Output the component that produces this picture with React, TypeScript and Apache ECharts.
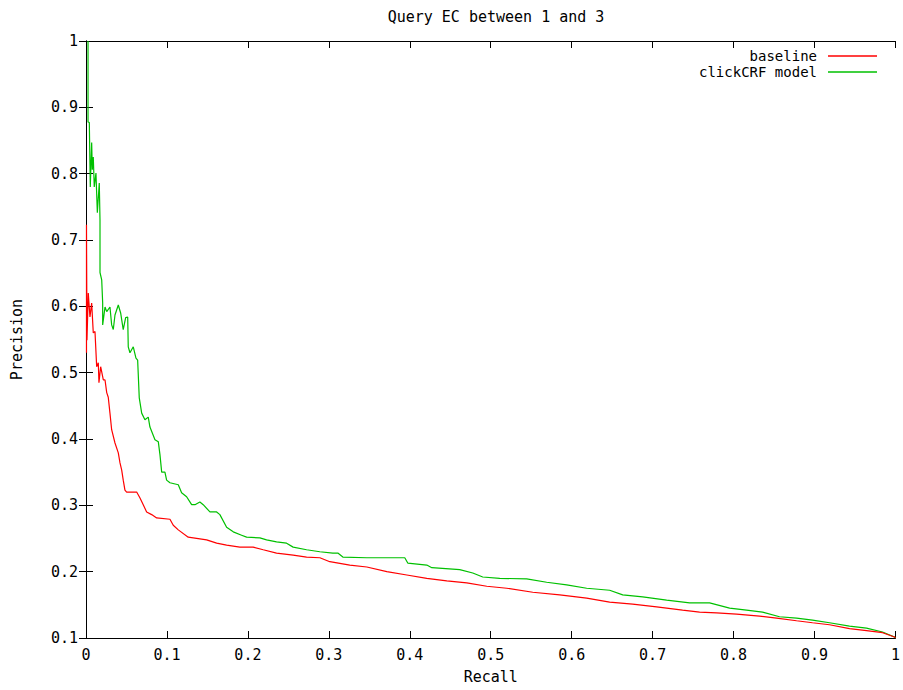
import React, { useEffect, useRef } from "react";
import * as echarts from "echarts";

const TITLE = "Query EC between 1 and 3";
const X_NAME = "Recall";
const Y_NAME = "Precision";
const SERIES_NAMES = ["baseline", "clickCRF model"];

// baseline: [recall, precision]
const baselineRecall = [
  0.0006, 0.0006, 0.0012, 0.0028, 0.0049, 0.007, 0.009, 0.0111, 0.0132, 0.0152, 0.016, 0.0181,
  0.0214, 0.0235, 0.0256, 0.0275, 0.0296, 0.0317, 0.0358, 0.0399, 0.042, 0.0441, 0.046, 0.0481,
  0.0502, 0.0626, 0.0667, 0.0707, 0.0749, 0.0811, 0.0873, 0.1037, 0.1078, 0.114, 0.1263, 0.1325,
  0.149, 0.1614, 0.1737, 0.1901, 0.2065, 0.2189, 0.2354, 0.2559, 0.2725, 0.2889, 0.3012, 0.3259,
  0.3469, 0.3716, 0.3963, 0.421, 0.4457, 0.4704, 0.4951, 0.5198, 0.5519, 0.5852, 0.6185, 0.6469,
  0.6753, 0.7049, 0.737, 0.758, 0.779, 0.8037, 0.8321, 0.8531, 0.8778, 0.8975, 0.9185, 0.9432,
  0.9642, 0.984, 0.9988, 1.0,
];
const baselinePrecision = [
  0.53, 0.723, 0.549, 0.62, 0.584, 0.605, 0.56, 0.562, 0.509, 0.515, 0.485, 0.509,
  0.489, 0.489, 0.47, 0.463, 0.439, 0.414, 0.394, 0.379, 0.364, 0.353, 0.338, 0.323,
  0.32, 0.32, 0.311, 0.301, 0.29, 0.286, 0.281, 0.279, 0.27, 0.263, 0.252, 0.251,
  0.248, 0.243, 0.24, 0.237, 0.237, 0.233, 0.228, 0.225, 0.222, 0.221, 0.215, 0.21,
  0.207, 0.2, 0.195, 0.19, 0.186, 0.183, 0.178, 0.175, 0.169, 0.165, 0.16, 0.154,
  0.151, 0.147, 0.142, 0.139, 0.138, 0.136, 0.133, 0.13, 0.126, 0.123, 0.12, 0.114,
  0.111, 0.108, 0.1015, 0.1,
];

// clickCRF model: [recall, precision]
const crfRecall = [
  0.0025, 0.0025, 0.0041, 0.0053, 0.007, 0.0078, 0.009, 0.0102, 0.0123, 0.014, 0.0164, 0.0173,
  0.0173, 0.0194, 0.0206, 0.0206, 0.0235, 0.0256, 0.0296, 0.0317, 0.0337, 0.0358, 0.0399, 0.0428,
  0.046, 0.049, 0.0515, 0.0522, 0.0543, 0.0584, 0.0617, 0.0638, 0.0658, 0.0688, 0.0728, 0.0769,
  0.079, 0.0852, 0.0893, 0.0914, 0.0935, 0.0975, 0.0996, 0.1037, 0.114, 0.1181, 0.1243, 0.1305,
  0.1346, 0.1407, 0.1448, 0.1531, 0.1614, 0.1654, 0.1737, 0.1819, 0.1922, 0.1984, 0.2148, 0.2231,
  0.2354, 0.2478, 0.2559, 0.2725, 0.2889, 0.3049, 0.3111, 0.3173, 0.3469, 0.3667, 0.3938, 0.3975,
  0.421, 0.4272, 0.4617, 0.4778, 0.4901, 0.5111, 0.5444, 0.5691, 0.5938, 0.6185, 0.6469, 0.663,
  0.6877, 0.7173, 0.7457, 0.7704, 0.7951, 0.816, 0.8358, 0.8568, 0.8778, 0.8975, 0.9185, 0.9432,
  0.9642, 0.984, 0.9988, 1.0,
];
const crfPrecision = [
  1.0, 0.878, 0.877, 0.78, 0.847, 0.806, 0.825, 0.78, 0.801, 0.741, 0.786, 0.73,
  0.651, 0.64, 0.605, 0.572, 0.599, 0.592, 0.599, 0.572, 0.565, 0.587, 0.602, 0.59,
  0.565, 0.583, 0.584, 0.539, 0.53, 0.539, 0.522, 0.519, 0.462, 0.439, 0.429, 0.433,
  0.418, 0.399, 0.396, 0.376, 0.35, 0.35, 0.338, 0.334, 0.331, 0.319, 0.313, 0.301,
  0.301, 0.305, 0.301, 0.29, 0.29, 0.286, 0.267, 0.26, 0.255, 0.252, 0.251, 0.248,
  0.245, 0.243, 0.237, 0.233, 0.23, 0.228, 0.228, 0.222, 0.221, 0.221, 0.221, 0.213,
  0.21, 0.206, 0.203, 0.198, 0.192, 0.19, 0.189, 0.184, 0.18, 0.175, 0.172, 0.165,
  0.162, 0.157, 0.153, 0.153, 0.145, 0.142, 0.139, 0.132, 0.13, 0.127, 0.123, 0.118,
  0.115, 0.109, 0.1015, 0.1,
];

const FONT = "DejaVu Sans Mono";
const FS = 15;

export default function App() {
  const ref = useRef<HTMLDivElement>(null);
  useEffect(() => {
    if (!ref.current) return;
    const chart = echarts.init(ref.current, null, { renderer: "svg" });
    const zip = (a: number[], b: number[]) => a.map((v, i) => [v, b[i]]);
    const tickStyle = { show: true, inside: true, length: 7, lineStyle: { color: "#000", width: 1 } };
    const lineStyleAxis = { show: true, lineStyle: { color: "#000", width: 1 } };
    const labelStyle = { color: "#000", fontFamily: FONT, fontSize: FS };
    const legendText = { color: "#000", fontFamily: FONT, fontSize: 14, lineHeight: 14, padding: [0, 6, 0, 0] };
    chart.setOption({
      animation: false,
      backgroundColor: "#fff",
      title: {
        text: TITLE,
        left: 491,
        top: 4,
        textAlign: "center",
        textStyle: { color: "#000", fontFamily: FONT, fontSize: FS, fontWeight: "normal" },
      },
      legend: [
        {
          data: [SERIES_NAMES[0]],
          right: 24,
          top: 47,
          padding: 2,
          icon: "rect",
          itemWidth: 49,
          itemHeight: 1.5,
          align: "right",
          itemGap: 0,
          textStyle: legendText,
        },
        {
          data: [SERIES_NAMES[1]],
          right: 24,
          top: 63,
          padding: 2,
          icon: "rect",
          itemWidth: 49,
          itemHeight: 1.5,
          align: "right",
          itemGap: 0,
          textStyle: legendText,
        },
      ],
      grid: { left: 86, right: 7, top: 41, bottom: 52, show: false },
      xAxis: [
        {
          type: "value",
          min: 0,
          max: 1,
          interval: 0.1,
          name: X_NAME,
          nameLocation: "middle",
          nameGap: 31,
          nameTextStyle: { color: "#000", fontFamily: FONT, fontSize: FS },
          axisLine: lineStyleAxis,
          axisTick: tickStyle,
          axisLabel: { ...labelStyle, margin: 9 },
          splitLine: { show: false },
        },
        {
          type: "value",
          position: "top",
          min: 0,
          max: 1,
          interval: 0.1,
          axisLine: lineStyleAxis,
          axisTick: tickStyle,
          axisLabel: { show: false },
          splitLine: { show: false },
        },
      ],
      yAxis: [
        {
          type: "value",
          min: 0.1,
          max: 1,
          interval: 0.1,
          name: Y_NAME,
          nameLocation: "middle",
          nameGap: 62,
          nameTextStyle: { color: "#000", fontFamily: FONT, fontSize: FS },
          axisLine: lineStyleAxis,
          axisTick: tickStyle,
          axisLabel: { ...labelStyle, margin: 8, formatter: (v: number) => String(Math.round(v * 10) / 10) },
          splitLine: { show: false },
        },
        {
          type: "value",
          position: "right",
          min: 0.1,
          max: 1,
          interval: 0.1,
          axisLine: lineStyleAxis,
          axisTick: tickStyle,
          axisLabel: { show: false },
          splitLine: { show: false },
        },
      ],
      series: [
        {
          name: SERIES_NAMES[0],
          type: "line",
          data: zip(baselineRecall, baselinePrecision),
          showSymbol: false,
          symbol: "none",
          color: "#ff0000",
          lineStyle: { color: "#ff0000", width: 1.2 },
          z: 3,
        },
        {
          name: SERIES_NAMES[1],
          type: "line",
          data: zip(crfRecall, crfPrecision),
          showSymbol: false,
          symbol: "none",
          color: "#00c000",
          lineStyle: { color: "#00c000", width: 1.2 },
          z: 2,
        },
      ],
    });
    return () => chart.dispose();
  }, []);
  return (
    <div
      ref={ref}
      style={{ position: "fixed", left: 0, top: 0, width: 903, height: 690, background: "#fff" }}
    />
  );
}
